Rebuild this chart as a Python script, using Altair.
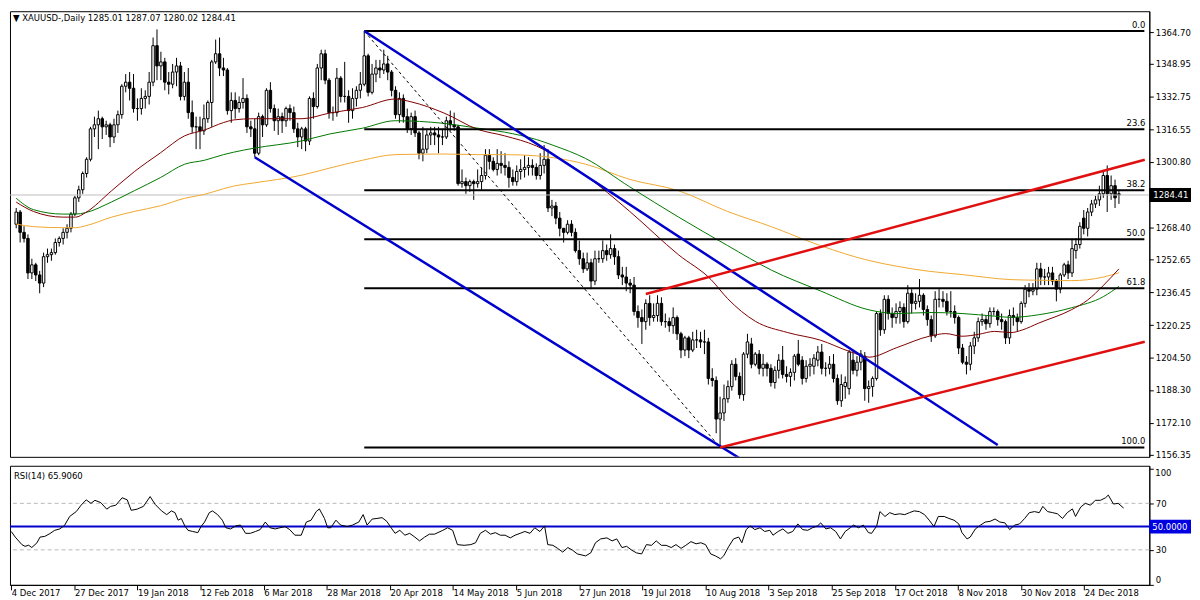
import altair as alt
import pandas as pd

# ------------------------------------------------------------------ data
opens = [
    1270,1276,1266,1263,1246,1250,1245,1241,1254,1255,
    1256,1261,1263,1266,1268,1275,1283,1287,1295,1302,
    1317,1319,1322,1318,1319,1313,1319,1324,1338,1340,
    1337,1327,1327,1332,1333,1340,1358,1348,1350,1340,
    1339,1345,1348,1333,1340,1325,1318,1318,1316,1322,
    1330,1350,1354,1347,1346,1326,1331,1327,1330,1332,
    1318,1317,1305,1323,1319,1336,1327,1321,1323,1321,
    1327,1325,1317,1313,1317,1311,1332,1328,1347,1354,
    1341,1325,1325,1342,1333,1333,1326,1332,1336,1339,
    1353,1335,1344,1347,1346,1349,1345,1336,1324,1332,
    1323,1317,1323,1315,1305,1307,1314,1315,1314,1313,
    1313,1321,1319,1318,1290,1291,1289,1291,1290,1291,
    1294,1304,1301,1297,1300,1299,1298,1293,1291,1296,
    1297,1298,1299,1298,1294,1299,1302,1278,1279,1273,
    1268,1266,1270,1266,1257,1253,1248,1251,1242,1253,
    1253,1257,1255,1258,1254,1245,1244,1241,1240,1227,
    1224,1222,1231,1224,1225,1231,1222,1222,1220,1224,
    1216,1208,1214,1208,1213,1213,1212,1212,1194,1193,
    1174,1177,1184,1190,1201,1195,1186,1206,1211,1201,
    1206,1199,1201,1199,1192,1198,1203,1196,1195,1197,
    1206,1203,1194,1200,1200,1203,1207,1199,1199,1201,
    1194,1183,1190,1189,1203,1198,1202,1205,1189,1190,
    1194,1226,1218,1233,1226,1224,1227,1229,1222,1236,
    1231,1232,1235,1228,1223,1215,1233,1233,1232,1227,
    1227,1224,1209,1202,1201,1210,1214,1222,1223,1221,
    1227,1227,1223,1222,1214,1225,1224,1222,1231,1238,
    1237,1238,1248,1244,1244,1246,1242,1238,1245,1250,
    1246,1257,1260,1273,1268,1276,1280,1282,1285,1294,
    1285,1289,1285.01,
]
highs = [
    1278,1277,1269,1265,1253,1251,1247,1256,1258,1258,
    1263,1264,1268,1270,1276,1284,1289,1296,1303,1318,
    1323,1326,1323,1321,1320,1322,1326,1339,1344,1345,
    1344,1332,1337,1336,1345,1362,1366,1355,1352,1345,
    1349,1352,1350,1345,1347,1331,1323,1323,1329,1331,
    1351,1361,1362,1352,1347,1335,1335,1333,1342,1334,
    1321,1322,1325,1324,1337,1340,1329,1327,1325,1328,
    1329,1328,1320,1318,1318,1333,1335,1349,1356,1356,
    1342,1328,1347,1343,1350,1336,1337,1338,1345,1365.2,
    1354,1349,1351,1351,1356,1353,1346,1338,1335,1334,
    1327,1325,1326,1316,1318,1317,1318,1318,1318,1317,
    1323,1326,1325,1319,1297,1293,1292,1292,1297,1298,
    1307,1307,1303,1307,1306,1305,1301,1297,1299,1302,
    1304,1303,1302,1300,1305,1309,1307,1282,1281,1276,
    1268,1272,1272,1268,1262,1256,1256,1253,1257,1257,
    1262,1260,1265,1260,1257,1249,1249,1243,1244,1230,
    1228,1233,1235,1231,1235,1234,1226,1224,1229,1225,
    1217,1215,1215,1217,1218,1217,1218,1214,1199,1195,
    1185,1191,1193,1203,1204,1197,1207,1216,1214,1207,
    1208,1206,1202,1201,1200,1206,1210,1200,1199,1206,
    1213,1205,1203,1204,1206,1210,1211,1202,1205,1206,
    1196,1196,1195,1208,1208,1205,1208,1207,1193,1195,
    1227,1228,1235,1235,1229,1231,1232,1231,1240,1238,
    1236,1243,1236,1230,1225,1237,1238,1237,1236,1237,
    1230,1225,1211,1205,1212,1217,1224,1226,1225,1229,
    1229,1228,1226,1223,1228,1229,1226,1232,1240,1241,
    1241,1251,1251,1248,1249,1249,1243,1246,1251,1252,
    1263,1263,1271,1277,1278,1282,1284,1289,1296,1299,
    1294,1292,1287.07,
]
lows = [
    1268,1261,1261,1243,1243,1242,1236,1239,1251,1252,
    1255,1259,1260,1263,1266,1274,1281,1285,1293,1301,
    1313,1307,1312,1314,1308,1310,1315,1322,1335,1331,
    1325,1321,1324,1327,1329,1338,1341,1341,1336,1334,
    1337,1338,1331,1331,1322,1315,1307,1307,1314,1320,
    1318,1349,1343,1343,1324,1320,1322,1325,1327,1315,
    1313,1303,1304,1313,1318,1325,1316,1314,1315,1318,
    1321,1315,1308,1307,1306,1309,1322,1327,1341,1339,
    1322,1321,1323,1330,1330,1320,1322,1328,1332,1338,
    1333,1334,1340,1342,1344,1341,1333,1322,1320,1320,
    1315,1314,1313,1302,1301,1305,1309,1309,1305,1309,
    1312,1316,1316,1289,1288,1285,1286,1282,1288,1287,
    1292,1297,1296,1294,1295,1294,1288,1289,1289,1292,
    1293,1294,1294,1292,1292,1295,1276,1274,1270,1264,
    1261,1265,1264,1256,1250,1246,1247,1238,1240,1251,
    1251,1252,1253,1250,1243,1240,1237,1236,1225,1219,
    1211,1218,1220,1222,1222,1220,1219,1217,1216,1213,
    1204,1205,1204,1207,1209,1209,1206,1191,1190,1167,
    1160,1173,1182,1188,1193,1184,1183,1204,1199,1200,
    1196,1195,1195,1190,1189,1194,1194,1192,1190,1193,
    1200,1191,1192,1195,1196,1200,1196,1195,1196,1192,
    1181,1180,1184,1186,1196,1195,1198,1183,1182,1185,
    1193,1215,1216,1223,1219,1221,1221,1219,1221,1226,
    1228,1229,1225,1220,1212,1214,1229,1229,1225,1224,
    1221,1206,1201,1196,1198,1206,1212,1220,1218,1219,
    1225,1220,1218,1211,1211,1220,1217,1221,1229,1234,
    1235,1235,1240,1240,1240,1240,1232,1236,1244,1243,
    1244,1253,1258,1265,1264,1274,1278,1279,1283,1276,
    1282,1278,1280.02,
]
closes = [
    1276,1266,1263,1246,1250,1245,1241,1254,1255,1256,
    1261,1263,1266,1268,1275,1283,1287,1295,1302,1317,
    1319,1322,1318,1319,1313,1319,1324,1338,1340,1337,
    1327,1327,1332,1333,1340,1358,1348,1350,1340,1339,
    1345,1348,1333,1340,1325,1318,1318,1316,1322,1330,
    1350,1354,1347,1346,1326,1331,1327,1330,1332,1318,
    1317,1305,1323,1319,1336,1327,1321,1323,1321,1327,
    1325,1317,1313,1317,1311,1332,1328,1347,1354,1341,
    1325,1325,1342,1333,1333,1326,1332,1336,1339,1353,
    1335,1344,1347,1346,1349,1345,1336,1324,1332,1323,
    1317,1323,1315,1305,1307,1314,1315,1314,1313,1313,
    1321,1319,1318,1290,1291,1289,1291,1290,1291,1294,
    1304,1301,1297,1300,1299,1298,1293,1291,1296,1297,
    1298,1299,1298,1294,1299,1302,1278,1279,1273,1268,
    1266,1270,1266,1257,1253,1248,1251,1242,1253,1253,
    1257,1255,1258,1254,1245,1244,1241,1240,1227,1224,
    1222,1231,1224,1225,1231,1222,1222,1220,1224,1216,
    1208,1214,1208,1213,1213,1212,1212,1194,1193,1174,
    1177,1184,1190,1201,1195,1186,1206,1212,1201,1206,
    1199,1201,1199,1192,1198,1203,1196,1195,1197,1205,
    1201,1194,1200,1201,1204,1207,1199,1199,1201,1194,
    1183,1191,1192,1207,1198,1202,1206,1189,1190,1194,
    1226,1218,1233,1226,1224,1227,1229,1222,1236,1231,
    1232,1235,1228,1223,1215,1233,1233,1232,1227,1227,
    1224,1209,1202,1201,1210,1214,1222,1223,1221,1227,
    1227,1223,1222,1214,1225,1224,1222,1231,1238,1237,
    1238,1248,1244,1244,1246,1242,1238,1245,1250,1246,
    1258,1260,1269,1268,1276,1280,1282,1285,1294,1285,
    1289,1283,1284.41,
]

# moving averages (at sample bars)
ma_fast_bar = [0,4.4,11.9,15.2,17.7,24.4,30.2,36.9,43.1,48.1,53,55.6,60.6,73.1,80.2,88.5,96.9,101,
               109.4,118.1,124.8,133.1,137.3,145.6,156.9,169.4,177.7,181.9,189,197.3,205.6,213.1,218.1,
               225.2,233.5,237.7,241.9,246,250.2,254.4,257.3,261.5,269.8,273.9,278.1,282]
ma_fast_val = [1280.9,1276.3,1273.5,1273.5,1275.7,1286.5,1295.9,1305.2,1313.6,1316.4,1320.1,1321.4,1322.0,
               1322.0,1324.8,1327.5,1331.7,1330.3,1324.8,1316.7,1313.6,1308.5,1304.3,1294.0,1276.3,1254.9,
               1242.7,1233.4,1222.2,1216.6,1212.9,1207.3,1204.5,1209.2,1214.8,1216.1,1214.8,1215.7,1217.2,
               1216.6,1217.9,1221.3,1227.8,1232.5,1240.0,1248.0]
ma_mid_bar = [0,4.4,11.9,15.2,17.7,24.4,30.2,36.9,43.1,48.1,53,55.6,60.6,73.1,80.2,88.5,96.9,109.4,118.1,
              124.8,133.1,137.3,145.6,156.9,169.4,181.9,193.1,205.6,218.1,225.2,233.5,241.9,250.2,254.4,
              261.5,269.8,278.1,282]
ma_mid_val = [1282.8,1277.2,1275.0,1275.0,1275.7,1281.0,1286.5,1293.0,1299.6,1301.5,1304.3,1305.5,1307.4,
              1311.1,1314.5,1317.3,1321.0,1319.7,1317.3,1315.4,1311.7,1308.9,1302.4,1288.4,1273.5,1259.5,
              1247.4,1237.2,1227.8,1226.0,1226.5,1226.0,1224.7,1224.1,1225.4,1228.8,1234.4,1239.4]
ma_slow_bar = [0,4.4,11.9,15.2,17.7,24.4,30.2,36.9,43.1,48.1,53,55.6,60.6,73.1,80.2,88.5,96.9,109.4,118.1,
               124.8,133.1,137.3,145.6,156.9,169.4,181.9,193.1,205.6,218.1,225.2,233.5,241.9,254.4,261.5,
               269.8,278.1,282]
ma_slow_val = [1270.1,1268.8,1268.3,1268.3,1269.2,1273.5,1276.3,1279.1,1282.8,1284.7,1287.5,1288.8,1290.3,
               1294.2,1297.7,1301.5,1304.3,1304.6,1304.3,1304.3,1303.7,1302.8,1299.6,1292.1,1286.5,1276.3,
               1268.8,1259.5,1252.1,1249.3,1246.8,1245.2,1242.7,1242.4,1242.2,1244.0,1246.1]

# RSI(14)
rsi_bar = [0,1,2.7,3.5,4.4,5.2,6.5,7.3,8.5,9.8,11,12.3,13.5,14.8,16.5,17.7,19,20.2,21.2,22.7,24.2,25.2,
           26.5,28.1,29.4,30.4,31.9,33.5,35.2,36.5,
           38.1,39.4,40.6,41.5,42.3,43.1,44,44.8,46,47.3,48.1,49,50.2,51,52.3,53.5,54.4,55.6,56.9,58.1,
           59.4,60.6,61.9,63.1,64.4,65.6,66.9,68.1,69.4,70.6,71.9,
           73.5,74.8,76,77.3,78.1,79.4,80.2,81,82.3,83.5,85.2,86.5,88.1,89.2,90.2,91.5,92.7,94,95.2,96.5,
           97.3,98.5,99.8,101,102.3,103.5,104.8,106,107.3,
           109.4,110.6,111.9,113.1,114.8,116.5,117.7,118.9,120.2,121.5,122.7,124,125.2,126.5,127.7,129,
           130.2,131.5,132.7,134,135.2,136,137.3,138.5,139.8,141.1,142.3,143.5,
           145.6,146.9,148.1,149.4,151,152.3,153.5,154.8,156,157.3,158.5,159.8,161,162.3,163.5,164.8,166,
           167.3,168.5,169.8,171,172.3,173.6,174.8,176,177.3,178.5,179.8,
           180.6,181.9,183.1,184.4,185.2,186.3,187.3,188.5,189.8,191,192.3,193.1,194.4,195.6,196.9,198.1,
           199.4,200.6,201.9,203.1,204.4,205.2,206.5,207.7,209,210.2,211.4,212.7,213.5,214.8,216,
           217.3,218.1,219.4,220.2,221.5,222.7,224,225.2,226.5,227.7,228.9,230.2,231.5,232.7,233.9,235,
           236.5,237.7,239,240.2,241,242.3,243.1,244.4,245.7,246.9,248.1,249.4,250.6,251.9,253.1,
           254.4,255.6,256.9,258.1,259.4,260.6,261.5,262.7,264,265.2,266.5,267.7,269,269.8,271.1,272.3,
           273.6,274.8,276.1,277.4,278.1,279.4,280.6,282]
rsi_val = [45.8,41,34.5,33,34,32,36,41,41.6,44,46.8,48,51,58.7,63,68.4,73,70,72.6,70.6,65,67.4,68.4,74.8,
           73,64,65,67.4,75.8,69,
           63.5,60.3,63.5,62,55.5,57,50.6,46.8,45.8,44.8,50,53.9,62,63.5,60.3,55.5,49,48,50.6,51.3,44.2,
           44.2,45.8,47.4,53.9,49,48,49,50,47.4,42.6,
           42.6,53.9,55.5,62.9,65.2,57,49,49,55.5,51.3,50,51.3,53.9,60.3,51.3,56.5,57,57.7,54.5,48,44.2,
           46.8,42.6,44.2,41,37.7,41,43.5,43.5,
           46.8,49,46.8,34.5,33.9,34.5,36.1,44.2,46.8,43.5,44.8,42.6,42.6,40.3,42.6,44.2,45.8,44.2,49,45.8,
           50.6,34.5,33.9,31.3,28.1,32,29.7,26.5,
           24.8,27.4,36.1,39.4,40.3,37.7,39.4,32,33,29.7,27.4,26.5,34.5,33.9,37.7,33.9,33.9,32,34.5,31.3,
           33.9,37.1,35.2,36.1,34.5,26.5,24.8,22.3,
           24.8,33,39.4,41,36.1,47.4,50.6,47.4,49,45.8,46.8,42.6,45.8,48,44.2,45.8,52.3,47.4,46.8,49,50.6,
           53.2,48,49,45.8,39.4,45.8,49,51.3,49,51.3,
           44.8,44.2,50.6,62.9,58.7,62,60.3,61,60.3,62,63.5,62.9,60.3,55.5,50,58.7,58.7,57,55.5,52.3,44.8,
           39.4,41,48,51.3,53.9,54.5,56.5,53.9,53.2,47.4,
           51.3,52.3,57,62,62.9,62,67.4,62.9,62,61,57,62,65.2,58.7,66.8,70,68.4,72.6,72.6,74.8,77.1,69.4,
           70,65.9]

# fibonacci retracement (drawn from the Apr high to the Aug low)
fib_labels = ["0.0", "23.6", "38.2", "50.0", "61.8", "100.0"]
fib_prices = [1365.2, 1316.8, 1286.8, 1262.6, 1238.4, 1160.0]
fib_start_bar = 89
chart_start_bar = -0.325
chart_end_bar = 288.5
diag_x1, diag_y1, diag_x2, diag_y2 = [89], [1365.2], [180], [1160.0]

# channel lines
blue_x1 = [89, 61]
blue_y1 = [1365.2, 1303.0]
blue_x2 = [251.0, 184.8]
blue_y2 = [1161.2, 1154.9]
red_x1 = [161.0, 180.0]
red_y1 = [1235.6, 1160.0]
red_x2 = [288.6, 288.6]
red_y2 = [1301.8, 1212.1]

# axes
date_tick_bars = [0, 16, 32, 48, 64, 80, 96, 112, 128, 144, 160, 176, 192, 208, 224, 240, 256, 272]
date_tick_labels = ["4 Dec 2017", "27 Dec 2017", "19 Jan 2018", "12 Feb 2018", "6 Mar 2018",
                    "28 Mar 2018", "20 Apr 2018", "14 May 2018", "5 Jun 2018", "27 Jun 2018",
                    "19 Jul 2018", "10 Aug 2018", "3 Sep 2018", "25 Sep 2018", "17 Oct 2018",
                    "8 Nov 2018", "30 Nov 2018", "24 Dec 2018"]
price_ticks = [1364.70, 1348.95, 1332.75, 1316.55, 1300.80, 1268.40, 1252.65, 1236.45,
               1220.25, 1204.50, 1188.30, 1172.10, 1156.35]
price_domain = [1155.37, 1374.97]
rsi_ticks = [0, 30, 70, 100]
rsi_top_label = ["100"]
rsi_domain = [-0.1, 102.3]
last_price = [1284.41]
last_price_label = ["1284.41"]
rsi_mid = [50]
rsi_mid_label = ["50.0000"]
header_main = "\u25BC XAUUSD-,Daily  1285.01 1287.07 1280.02 1284.41"
header_rsi = "RSI(14) 65.9060"

assert len(opens) == len(highs) == len(lows) == len(closes)
assert len(rsi_bar) == len(rsi_val)

# ------------------------------------------------------------------ layout / style
W = 1148
H_MAIN = 449
H_RSI = 120
FONT = "DejaVu Sans Condensed, Liberation Sans, sans-serif"
FS = 9.5

xs = alt.Scale(domain=[chart_start_bar, chart_end_bar], nice=False, zero=False)
ys = alt.Scale(domain=price_domain, nice=False, zero=False)
rs = alt.Scale(domain=rsi_domain, nice=False, zero=False)

candles = pd.DataFrame({"bar": list(range(len(closes))), "open": opens, "high": highs,
                        "low": lows, "close": closes})

price_axis = alt.Axis(orient="right", values=price_ticks, format=".2f", title=None, grid=False,
                      tickSize=4, labelPadding=2, labelOverlap=False, labelFlush=False)
rsi_axis = alt.Axis(orient="right", values=rsi_ticks, format="d", title=None, grid=False,
                    tickSize=4, labelPadding=2, labelFlush=False, labelOverlap=False,
                    labelExpr="datum.value >= 100 ? '' : datum.label",
                    labelBaseline={"condition": [{"test": "datum.value <= 0", "value": "bottom"}],
                                   "value": "middle"})

X = lambda f: alt.X(f, type="quantitative", scale=xs, axis=None)
Y = lambda f: alt.Y(f, type="quantitative", scale=ys, axis=price_axis)
R = lambda f: alt.Y(f, type="quantitative", scale=rs, axis=rsi_axis)

wicks = alt.Chart(candles).mark_rule(color="black", strokeWidth=1).encode(
    x=X("bar"), y=Y("low"), y2="high:Q")
bodies = alt.Chart(candles).mark_bar(size=2.5, stroke="black", strokeWidth=1).encode(
    x=X("bar"), y=Y("open"), y2="close:Q",
    fill=alt.when("datum.close >= datum.open").then(alt.value("white")).otherwise(alt.value("black")))

cur_df = pd.DataFrame({"price": last_price, "label": last_price_label})
cur_line = alt.Chart(cur_df).mark_rule(color="#c0c0c0", strokeWidth=1).encode(y=Y("price"))


def ma_layer(b, v, color):
    d = pd.DataFrame({"bar": b, "val": v})
    return alt.Chart(d).mark_line(color=color, strokeWidth=1, interpolate="monotone").encode(
        x=X("bar"), y=Y("val"))


ma_fast = ma_layer(ma_fast_bar, ma_fast_val, "#800000")
ma_mid = ma_layer(ma_mid_bar, ma_mid_val, "#007800")
ma_slow = ma_layer(ma_slow_bar, ma_slow_val, "#f0a830")

fib_df = pd.DataFrame({"price": fib_prices, "label": fib_labels,
                       "x1": [fib_start_bar] * len(fib_prices), "x2": [chart_end_bar] * len(fib_prices)})
fib_lines = alt.Chart(fib_df).mark_rule(color="black", strokeWidth=2).encode(
    x=X("x1"), x2="x2:Q", y=Y("price"))
fib_text = alt.Chart(fib_df).mark_text(align="right", baseline="bottom", dy=-1, font=FONT,
                                       fontSize=FS, color="black").encode(
    x=alt.value(W - 4), y=Y("price"), text="label:N")

diag_df = pd.DataFrame({"x1": diag_x1, "y1": diag_y1, "x2": diag_x2, "y2": diag_y2})
diag = alt.Chart(diag_df).mark_rule(color="black", strokeWidth=1, strokeDash=[3, 3]).encode(
    x=X("x1"), y=Y("y1"), x2="x2:Q", y2="y2:Q")

blue_df = pd.DataFrame({"x1": blue_x1, "y1": blue_y1, "x2": blue_x2, "y2": blue_y2})
blue = alt.Chart(blue_df).mark_rule(color="#0000cc", strokeWidth=2.5, clip=True).encode(
    x=X("x1"), y=Y("y1"), x2="x2:Q", y2="y2:Q")
red_df = pd.DataFrame({"x1": red_x1, "y1": red_y1, "x2": red_x2, "y2": red_y2})
red = alt.Chart(red_df).mark_rule(color="#e01010", strokeWidth=2.5, clip=True).encode(
    x=X("x1"), y=Y("y1"), x2="x2:Q", y2="y2:Q")

head_main = alt.Chart(pd.DataFrame({"t": [header_main]})).mark_text(
    align="left", baseline="middle", font=FONT, fontSize=FS, color="black").encode(
    x=alt.value(3), y=alt.value(7), text="t:N")

cur_box = alt.Chart(cur_df).mark_tick(orient="vertical", thickness=42, size=14, color="black",
                                      opacity=1).encode(x=alt.value(W + 21), y=Y("price"))
cur_text = alt.Chart(cur_df).mark_text(align="left", baseline="middle", font=FONT, fontSize=FS,
                                       color="white").encode(
    x=alt.value(W + 4), y=Y("price"), text="label:N")

main = alt.layer(wicks, bodies, cur_line, ma_slow, ma_mid, ma_fast, fib_lines, diag, blue, red,
                 fib_text, head_main, cur_box, cur_text).properties(width=W, height=H_MAIN)

# ------------------------------------------------------------------ RSI panel
label_expr = "[" + ",".join("'%s'" % s for s in date_tick_labels) + "][round(datum.value/16)]"
date_axis = alt.Axis(values=date_tick_bars, labelExpr=label_expr, orient="bottom", title=None,
                     grid=False, tickSize=5, labelAlign="left", labelPadding=-2, labelOverlap=False,
                     labelFlush=False, labelBound=False)

rsi_df = pd.DataFrame({"bar": rsi_bar, "val": rsi_val})
rsi_line = alt.Chart(rsi_df).mark_line(color="black", strokeWidth=1).encode(
    x=alt.X("bar:Q", scale=xs, axis=date_axis), y=R("val"))
lvl_df = pd.DataFrame({"level": [70, 30]})
rsi_dash = alt.Chart(lvl_df).mark_rule(color="#b8b8b8", strokeWidth=1, strokeDash=[4, 3]).encode(
    y=R("level"))
mid_df = pd.DataFrame({"level": rsi_mid, "label": rsi_mid_label})
rsi_mid_line = alt.Chart(mid_df).mark_rule(color="#0000cc", strokeWidth=2).encode(y=R("level"))
mid_box = alt.Chart(mid_df).mark_tick(orient="vertical", thickness=42, size=14, color="#0000e0",
                                      opacity=1).encode(x=alt.value(W + 21), y=R("level"))
mid_text = alt.Chart(mid_df).mark_text(align="left", baseline="middle", font=FONT, fontSize=FS,
                                       color="white").encode(
    x=alt.value(W + 3), y=R("level"), text="label:N")
top_df = pd.DataFrame({"level": [rsi_ticks[-1]], "label": rsi_top_label})
top_text = alt.Chart(top_df).mark_text(align="left", baseline="top", font=FONT, fontSize=FS,
                                       color="black").encode(
    x=alt.value(W + 6), y=R("level"), text="label:N")
head_rsi = alt.Chart(pd.DataFrame({"t": [header_rsi]})).mark_text(
    align="left", baseline="middle", font=FONT, fontSize=FS, color="black").encode(
    x=alt.value(4), y=alt.value(10), text="t:N")

rsi = alt.layer(rsi_dash, rsi_mid_line, rsi_line, head_rsi, mid_box, mid_text, top_text).properties(
    width=W, height=H_RSI)

chart = alt.vconcat(main, rsi, spacing=3).properties(
    padding={"left": 0, "top": 0, "right": 0, "bottom": 0}, background="white"
).configure_view(stroke="black", strokeWidth=1).configure_axis(
    labelFont=FONT, labelFontSize=FS, labelColor="black", tickColor="black", domainColor="black",
    domainWidth=1, tickWidth=1)

chart.save("out.html", embed_options={"renderer": "svg", "actions": False})
